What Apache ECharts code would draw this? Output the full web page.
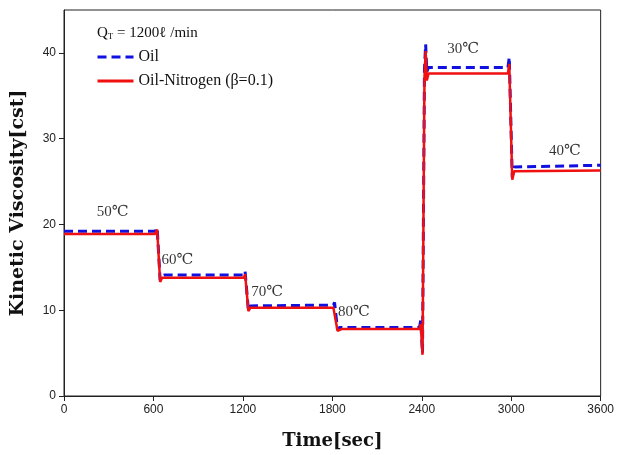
<!DOCTYPE html>
<html>
<head>
<meta charset="utf-8">
<script src="https://cdn.jsdelivr.net/npm/echarts@6/dist/echarts.min.js"></script>
<style>
  html, body { margin: 0; padding: 0; background: #fff; }
  #chart { width: 617px; height: 455px; }
</style>
</head>
<body>
<div id="chart"></div>
<script>
// time points (sec) for each curve
var timeSec = [0, 612, 625, 645, 658, 672,
  1207, 1215, 1237, 1250, 1262,
  1807, 1815, 1835, 1848, 1862,
  2385, 2393, 2405, 2418, 2426, 2434, 2445,
  2978, 2987, 3007, 3020, 3033, 3600];
// Oil viscosity [cst]
var oilValue = [19.2, 19.2, 19.6, 13.5, 14.0, 14.1,
  14.1, 14.5, 10.0, 10.5, 10.6,
  10.6, 10.9, 7.7, 8.0, 8.0,
  8.0, 8.8, 5.0, 38.0, 41.0, 37.8, 38.3,
  38.3, 39.5, 25.5, 26.7, 26.9, 26.9];
// Oil-Nitrogen (beta=0.1) viscosity [cst]
var mixValue = [18.9, 18.9, 19.4, 13.3, 13.8, 13.8,
  13.8, 14.2, 9.9, 10.3, 10.3,
  10.3, 10.5, 7.6, 7.8, 7.8,
  7.8, 8.4, 4.8, 37.0, 40.2, 36.8, 37.6,
  37.6, 38.7, 25.2, 26.2, 26.3, 26.3];
// temperature annotations
var tempText = ['50℃', '60℃', '70℃', '80℃', '30℃', '40℃'];
var tempX = [327, 761, 1363, 1944, 2678, 3360];
var tempY = [21.4, 15.8, 12.1, 9.8, 40.5, 28.5];
var xTicks = [0, 600, 1200, 1800, 2400, 3000, 3600];
var yTicks = [0, 10, 20, 30, 40];

function pairs(xs, ys) {
  var out = [];
  for (var i = 0; i < xs.length; i++) out.push([xs[i], ys[i]]);
  return out;
}

var chart = echarts.init(document.getElementById('chart'));
var serif = '"Liberation Serif", "DejaVu Serif", serif';
var boldSerif = '"DejaVu Serif", "Liberation Serif", serif';
var sans = '"Liberation Sans", Arial, sans-serif';

chart.setOption({
  animation: false,
  title: {
    text: '{q|Q}{sub|T}{q| = 1200ℓ /min}',
    left: 92,
    top: 20,
    textStyle: {
      rich: {
        q: { fontFamily: serif, fontSize: 15, fontWeight: 'normal', color: '#111' },
        sub: { fontFamily: serif, fontSize: 9, fontWeight: 'normal', color: '#111', verticalAlign: 'bottom', padding: [7, 0, 0, 0] }
      }
    }
  },
  legend: {
    orient: 'vertical',
    left: 91,
    top: 44,
    itemWidth: 36,
    itemHeight: 14,
    itemGap: 8,
    itemStyle: { opacity: 0 },
    lineStyle: { width: 3 },
    textStyle: { fontFamily: serif, fontSize: 16, color: '#111' },
    data: ['Oil', 'Oil-Nitrogen (β=0.1)']
  },
  grid: {
    left: 64,
    right: 12,
    top: 10,
    bottom: 58,
    show: true,
    borderColor: '#222',
    borderWidth: 1
  },
  xAxis: {
    type: 'value',
    min: 0,
    max: 3600,
    interval: 600,
    name: 'Time[sec]',
    nameLocation: 'middle',
    nameGap: 36,
    nameTextStyle: { fontFamily: boldSerif, fontWeight: 'bold', fontSize: 18, color: '#111' },
    axisLine: { lineStyle: { color: '#222' } },
    axisTick: { inside: false, length: 5, lineStyle: { color: '#222' } },
    axisLabel: {
      fontFamily: sans, fontSize: 12, color: '#222', margin: 8,
      formatter: function (v) { return String(v); }
    },
    splitLine: { show: false }
  },
  yAxis: {
    type: 'value',
    min: 0,
    max: 45,
    interval: 10,
    name: 'Kinetic Viscosity[cst]',
    nameLocation: 'middle',
    nameGap: 36,
    nameTextStyle: { fontFamily: boldSerif, fontWeight: 'bold', fontSize: 19, color: '#111' },
    axisLine: { show: true, lineStyle: { color: '#222' } },
    axisTick: { show: true, length: 5, customValues: yTicks, lineStyle: { color: '#222' } },
    axisLabel: {
      fontFamily: sans, fontSize: 12, color: '#222', margin: 8,
      customValues: yTicks
    },
    splitLine: { show: false }
  },
  series: [
    {
      name: 'Oil',
      type: 'line',
      symbol: 'none',
      color: '#1010e0',
      lineStyle: { color: '#1010e0', width: 3, type: [9, 5] },
      data: pairs(timeSec, oilValue),
      z: 2
    },
    {
      name: 'Oil-Nitrogen (β=0.1)',
      type: 'line',
      symbol: 'none',
      color: '#f01010',
      lineStyle: { color: '#f01010', width: 2.5 },
      data: pairs(timeSec, mixValue),
      z: 3
    },
    {
      type: 'scatter',
      symbolSize: 0,
      silent: true,
      label: {
        show: true,
        position: 'inside',
        fontFamily: serif,
        fontSize: 15,
        color: '#000',
        formatter: function (p) { return tempText[p.dataIndex]; }
      },
      data: pairs(tempX, tempY),
      z: 4
    }
  ]
});
</script>
</body>
</html>
